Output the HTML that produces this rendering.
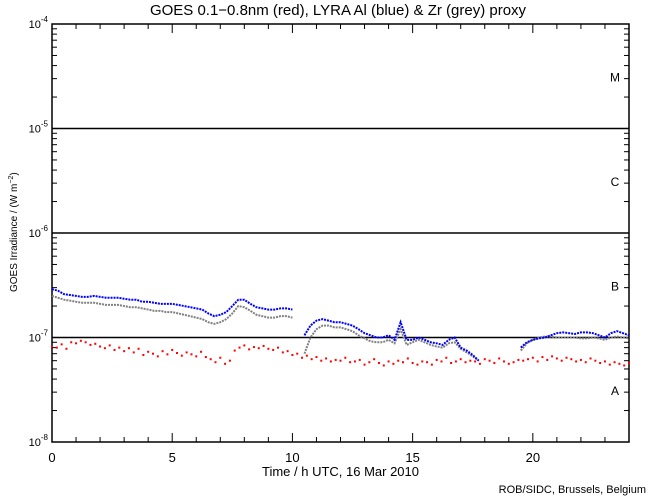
<!DOCTYPE html>
<html><head><meta charset="utf-8"><style>
body{margin:0;background:#fff;}
svg{display:block;font-family:"Liberation Sans",sans-serif;}
</style></head><body>
<svg id="chart" width="650" height="500"></svg>
<script>
const blueTimes=[0,0.25,0.5,0.75,1,1.25,1.5,1.75,2,2.25,2.5,2.75,3,3.25,3.5,3.75,4,4.25,4.5,4.75,5,5.25,5.5,5.75,6,6.25,6.5,6.75,7,7.25,7.5,7.75,8,8.25,8.5,8.75,9,9.25,9.5,9.75,10,null,10.5,10.75,11,11.25,11.5,11.75,12,12.25,12.5,12.75,13,13.25,13.5,13.75,14,14.25,14.5,14.75,15,15.25,15.5,15.75,16,16.25,16.5,16.75,17,17.25,17.5,17.75,null,19.5,19.75,20,20.25,20.5,20.75,21,21.25,21.5,21.75,22,22.25,22.5,22.75,23,23.25,23.5,23.75,24];
const blueVals=[2.9,2.8,2.6,2.55,2.5,2.45,2.45,2.5,2.45,2.4,2.4,2.4,2.35,2.3,2.3,2.2,2.2,2.15,2.1,2.1,2.1,2.05,2.0,1.95,1.9,1.85,1.7,1.6,1.65,1.75,2.0,2.3,2.3,2.1,1.95,1.9,1.85,1.85,1.9,1.9,1.85,null,1.05,1.3,1.45,1.5,1.45,1.4,1.4,1.35,1.3,1.2,1.1,1.05,1.0,1.0,1.05,0.95,1.4,0.95,0.95,1.0,0.95,0.9,0.88,0.85,0.95,1.0,0.8,0.75,0.68,0.6,null,0.8,0.9,0.95,0.98,1.0,1.05,1.1,1.12,1.1,1.08,1.12,1.12,1.1,1.05,1.0,1.1,1.15,1.1,1.05];
const greyVals=[2.5,2.4,2.3,2.25,2.2,2.15,2.15,2.15,2.1,2.05,2.05,2.05,2.0,1.95,1.95,1.9,1.85,1.8,1.8,1.75,1.75,1.7,1.65,1.6,1.55,1.5,1.4,1.35,1.4,1.5,1.7,2.0,1.95,1.8,1.65,1.6,1.55,1.55,1.6,1.6,1.55,null,0.7,1.0,1.2,1.3,1.3,1.25,1.25,1.2,1.15,1.05,0.98,0.92,0.9,0.9,0.95,0.88,1.2,0.85,0.9,0.95,0.9,0.85,0.82,0.8,0.88,0.9,0.78,0.72,0.66,0.6,null,0.75,0.88,0.95,1.0,1.02,1.02,1.0,1.0,1.0,1.0,0.98,0.98,1.0,0.98,0.95,1.0,1.02,1.0,0.98];
const redVals=[8.2,8.0,8.6,7.8,9.0,8.8,9.3,9.0,8.5,8.7,8.2,7.9,8.4,7.6,8.0,7.4,7.9,7.2,7.8,6.8,7.3,7.0,6.6,7.4,6.9,7.6,7.1,6.7,7.2,6.9,6.6,7.3,6.5,6.2,5.8,6.4,5.6,6.0,7.5,8.0,8.4,7.7,8.1,7.9,8.3,7.8,7.6,8.0,7.2,7.4,6.8,7.0,6.4,6.7,6.2,6.5,6.0,6.3,5.9,6.1,6.0,6.4,5.8,5.9,6.1,5.5,5.8,6.2,5.7,5.4,5.9,5.6,6.0,5.8,6.3,5.7,5.5,5.9,5.8,5.5,6.1,5.9,6.4,5.7,5.9,6.2,5.8,6.0,5.9,5.6,6.2,6.0,5.7,6.3,5.9,5.6,5.8,6.1,6.0,6.2,6.4,5.9,6.5,6.1,6.6,6.3,6.0,6.4,6.2,5.9,6.1,5.8,6.3,6.0,5.7,5.9,5.5,5.8,5.6,5.4,5.7];
const bandLabels=["M","C","B","A"];
const yTickExps=[-4,-5,-6,-7,-8];
const xTickLabels=[0,5,10,15,20];

const svg=document.getElementById('chart');
const NS='http://www.w3.org/2000/svg';
const X0=52,X1=629,Y0=24,Y1=442;
const xs=h=>X0+h*(X1-X0)/24;
const ys=v=>Y0+(-4-Math.log10(v))*(Y1-Y0)/4;
function mk(t,a,p){const e=document.createElementNS(NS,t);for(const k in a)e.setAttribute(k,a[k]);(p||svg).appendChild(e);return e;}

// frame
const fr=mk('rect',{x:X0,y:Y0,width:X1-X0,height:Y1-Y0,fill:'none',stroke:'#000','stroke-width':1.5});


// class lines
[1e-5,1e-6,1e-7].forEach(v=>{const l=mk('line',{x1:X0,x2:X1,y1:ys(v),y2:ys(v),stroke:'#000','stroke-width':1.5});

});
// y minor ticks
for(let e=-8;e<-4;e++)for(let m=1;m<10;m++){const y=ys(m*Math.pow(10,e));const len=m==1?8:5;
mk('line',{x1:X0,x2:X0+len,y1:y,y2:y,stroke:'#000'});mk('line',{x1:X1,x2:X1-len,y1:y,y2:y,stroke:'#000'});}
// x ticks
for(let h=0;h<=24;h++){const x=xs(h);const len=h%5==0?9:5;
mk('line',{x1:x,x2:x,y1:Y1,y2:Y1-len,stroke:'#000'});mk('line',{x1:x,x2:x,y1:Y0,y2:Y0+len,stroke:'#000'});}
xTickLabels.forEach(h=>{const t=mk('text',{x:xs(h),y:Y1+20,'text-anchor':'middle','font-size':13});t.textContent=h;

});
yTickExps.forEach(e=>{const t=mk('text',{x:X0-4,y:ys(Math.pow(10,e))+4,'text-anchor':'end','font-size':11});
t.innerHTML='10<tspan dy="-6" font-size="8">'+e+'</tspan>';

});
bandLabels.forEach((b,i)=>{const t=mk('text',{x:X1-14,y:ys(Math.pow(10,-4.5-i))+5,'text-anchor':'middle','font-size':12});t.textContent=b;

});

function drawLine(vals,color,name){let pts=[];const segs=[];
blueTimes.forEach((t,i)=>{if(t===null||vals[i]===null){if(pts.length)segs.push(pts);pts=[];}else pts.push(xs(t)+','+ys(vals[i]*1e-7));});
if(pts.length)segs.push(pts);
segs.forEach(s=>{const p=mk('polyline',{points:s.join(' '),fill:'none',stroke:color,'stroke-width':2,'stroke-dasharray':'2 1'});

});}
drawLine(greyVals,'#808080','lyra-zr-series');
drawLine(blueVals,'#0000ff','lyra-al-series');
redVals.forEach((v,i)=>{const r=mk('rect',{x:xs(i*0.2)-1,y:ys(v*1e-8)-1,width:2,height:2,fill:'#ff0000'});

});
</script>
<svg width="0" height="0"></svg>
<div style="position:absolute;left:0;top:0;width:650px;height:500px;pointer-events:none;font-family:'Liberation Sans',sans-serif;">
<div style="position:absolute;left:0;width:676px;top:2px;text-align:center;font-size:15px;">GOES 0.1−0.8nm (red), LYRA Al (blue) &amp; Zr (grey) proxy</div>
<div style="position:absolute;left:52px;width:577px;top:464px;text-align:center;font-size:13px;">Time / h UTC, 16 Mar 2010</div>
<div style="position:absolute;left:-86px;top:226px;width:200px;text-align:center;font-size:10px;transform:rotate(-90deg);">GOES Irradiance / (W m<sup style="font-size:7px">−2</sup>)</div>
<div style="position:absolute;right:4px;top:484px;font-size:11px;">ROB/SIDC, Brussels, Belgium</div>
</div>
</body></html>
